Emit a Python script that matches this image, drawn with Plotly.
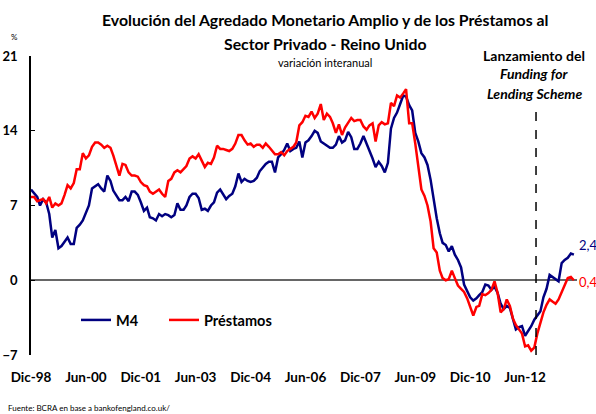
import pandas as pd
import plotly.graph_objects as go

# variacion interanual mensual, dic-98 a oct-13
fechas = pd.date_range("1998-12-01", periods=179, freq="MS")

m4 = [8.5, 8.1, 7.8, 7.0, 7.6, 7.3, 6.2, 4.0, 4.7, 3.0, 3.2, 3.6,
      4.0, 3.4, 3.4, 4.9, 5.2, 5.6, 6.3, 7.0, 8.6, 8.8, 9.0, 8.6,
      8.3, 9.8, 9.3, 8.4, 8.0, 7.5, 7.5, 7.8, 7.4, 8.3, 8.3, 8.0,
      7.3, 6.5, 6.8, 5.9, 5.8, 5.6, 6.2, 6.0, 6.2, 6.1, 5.9, 6.1,
      7.2, 6.6, 6.6, 7.0, 7.8, 8.1, 8.1, 7.7, 6.6, 6.7, 6.5, 7.0,
      7.3, 8.2, 8.5, 8.0, 7.6, 7.9, 8.1, 8.8, 10.0, 9.2, 9.5, 9.3,
      9.2, 9.3, 9.6, 10.2, 10.6, 10.9, 11.1, 11.1, 10.1, 11.5, 11.8, 12.2,
      12.8, 12.1, 12.3, 12.4, 13.0, 11.5, 12.9, 13.1, 13.5, 14.0, 13.8, 13.0,
      12.8, 12.6, 12.4, 12.4, 12.7, 13.5, 12.9, 13.1, 13.9, 13.4, 12.3, 12.3,
      12.8, 13.5, 12.8, 12.2, 11.4, 10.6, 11.1, 10.7, 10.1, 11.0, 14.2, 15.2,
      15.7, 16.5, 17.3, 17.2, 16.4, 15.9, 13.8, 13.0, 11.9, 11.5, 10.8, 9.4,
      7.6, 5.8, 4.4, 3.5, 3.3, 2.7, 3.2, 2.4, 1.9, 1.2, -0.4, -1.1,
      -1.6, -1.9, -1.7, -1.4, -1.1, -0.4, -0.5, -0.9, -0.6, -1.2, -2.2, -2.7,
      -2.4, -2.6, -3.6, -4.6, -4.4, -4.3, -5.2, -4.8, -4.3, -3.7, -3.3, -2.9,
      -1.6, -0.8, 0.5, 0.3, 0.1, -0.1, 1.6, 1.9, 2.1, 2.5, 2.4]

prestamos = [7.8, 7.8, 7.4, 7.5, 7.6, 7.2, 7.8, 6.8, 7.2, 7.0, 7.2, 8.0,
             8.9, 8.6, 9.1, 10.4, 10.4, 11.9, 11.4, 11.7, 12.5, 12.9, 12.9, 12.7,
             12.4, 12.6, 12.4, 11.7, 10.8, 9.8, 10.9, 10.8, 10.1, 9.8, 9.8, 9.7,
             9.2, 8.9, 8.8, 8.3, 8.1, 8.3, 8.5, 8.1, 7.8, 9.3, 9.5, 10.1,
             10.3, 10.1, 10.4, 10.7, 11.4, 11.6, 11.4, 11.8, 11.2, 10.6, 11.0, 10.9,
             11.5, 12.6, 12.3, 12.3, 12.2, 12.1, 12.3, 12.8, 13.6, 13.6, 13.1, 12.7,
             12.8, 12.5, 12.7, 12.7, 12.4, 12.8, 12.5, 12.1, 11.8, 11.8, 12.0, 11.7,
             12.1, 12.3, 12.5, 12.9, 14.5, 14.8, 15.4, 15.3, 15.8, 15.2, 15.6, 16.5,
             15.0, 15.6, 15.3, 14.7, 13.8, 14.6, 13.6, 14.3, 14.8, 15.2, 14.9, 15.0,
             15.0, 14.4, 14.1, 14.5, 14.7, 13.0, 14.5, 14.8, 14.6, 14.7, 16.6, 16.3,
             17.3, 17.1, 17.5, 17.9, 14.7, 14.7, 12.8, 10.5, 8.5, 7.9, 7.0, 5.5,
             3.0, 2.6, 0.9, 0.2, 0.0, 0.1, 0.9, 0.2, -0.5, -0.8, -1.1, -1.7,
             -2.4, -3.3, -2.5, -2.4, -1.3, -1.4, -1.2, -0.9, -0.1, -1.2, -3.0, -2.7,
             -1.8, -2.4, -3.6, -4.2, -4.6, -5.0, -6.2, -6.1, -6.6, -6.3, -5.0, -4.0,
             -3.0, -2.3, -1.8, -2.0, -2.2, -1.8, -1.1, -0.6, 0.2, 0.3, 0.0]

tick_fechas = ["1998-12-01", "2000-06-01", "2001-12-01", "2003-06-01", "2004-12-01",
               "2006-06-01", "2007-12-01", "2009-06-01", "2010-12-01", "2012-06-01"]
tick_textos = ["Dic-98", "Jun-00", "Dic-01", "Jun-03", "Dic-04",
               "Jun-06", "Dic-07", "Jun-09", "Dic-10", "Jun-12"]
y_ticks = [-7, 0, 7, 14, 21]
fls_fecha = "2012-09-18"
ult_m4 = "2,4"
ult_prest = "0,4"

AZUL = "#000080"
ROJO = "#FF0000"
FONT = "Lato"

def pap_y(py):
    return (355 - py) / 299

def pap_x(px):
    return (px - 31) / 546

fig = go.Figure()
fig.add_trace(go.Scatter(x=fechas, y=m4, name="M4", mode="lines", legend="legend",
                         line=dict(color=AZUL, width=2.5)))
fig.add_trace(go.Scatter(x=fechas, y=prestamos, name="Préstamos", mode="lines", legend="legend2",
                         line=dict(color=ROJO, width=2.5)))

# linea vertical del FLS
fig.add_shape(type="line", x0=fls_fecha, x1=fls_fecha, y0=-7, y1=16.6,
              xref="x", yref="y", line=dict(color="black", width=1.5, dash="dash"))

anot = [
    dict(text="<b>Evolución del Agredado Monetario Amplio y de los Préstamos al</b>",
         x=pap_x(325), y=pap_y(19), size=15.8),
    dict(text="<b>Sector Privado - Reino Unido</b>", x=pap_x(325), y=pap_y(43), size=15.8),
    dict(text="variación interanual", x=pap_x(325), y=pap_y(62), size=11),
    dict(text="<b>Lanzamiento del</b>", x=pap_x(534), y=pap_y(55), size=14),
    dict(text="<b><i>Funding for</i></b>", x=pap_x(534), y=pap_y(74), size=14),
    dict(text="<b><i>Lending Scheme</i></b>", x=pap_x(534), y=pap_y(93), size=14),
]
for a in anot:
    fig.add_annotation(text=a["text"], x=a["x"], y=a["y"], xref="paper", yref="paper",
                       showarrow=False, xanchor="center", yanchor="middle",
                       font=dict(family=FONT, size=a["size"], color="black"))

fig.add_annotation(text="%", x=pap_x(14), y=pap_y(37), xref="paper", yref="paper",
                   showarrow=False, xanchor="center", yanchor="middle",
                   font=dict(family=FONT, size=8, color="black"))
fig.add_annotation(text="Fuente: BCRA en base a bankofengland.co.uk/", x=pap_x(6), y=pap_y(408),
                   xref="paper", yref="paper", showarrow=False, xanchor="left", yanchor="middle",
                   font=dict(family=FONT, size=8, color="black"))

# etiquetas del ultimo dato
fig.add_annotation(text=ult_m4, x=fechas[-1], y=m4[-1], showarrow=False, xanchor="left",
                   yanchor="middle", xshift=3, yshift=10, font=dict(family=FONT, size=13, color=AZUL))
fig.add_annotation(text=ult_prest, x=fechas[-1], y=prestamos[-1], showarrow=False, xanchor="left",
                   yanchor="middle", xshift=3, yshift=-2, font=dict(family=FONT, size=13, color=ROJO))

leg_font = dict(family=FONT, size=14.5, color="black", weight="bold")
fig.update_layout(
    width=596, height=414,
    margin=dict(l=31, r=19, t=56, b=59),
    plot_bgcolor="white", paper_bgcolor="white",
    font=dict(family=FONT, color="black"),
    showlegend=True,
    legend=dict(x=pap_x(76), y=pap_y(320), xanchor="left", yanchor="middle",
                font=leg_font, bgcolor="rgba(0,0,0,0)"),
    legend2=dict(x=pap_x(164), y=pap_y(320), xanchor="left", yanchor="middle",
                 font=leg_font, bgcolor="rgba(0,0,0,0)"),
)
fig.update_xaxes(
    range=["1998-12-01", "2013-11-01"],
    tickvals=tick_fechas, ticktext=tick_textos,
    tickfont=dict(family=FONT, size=13.5, weight="bold"),
    showgrid=False, showline=False, ticks="", ticklabelstandoff=12, zeroline=False,
    automargin=False,
)
fig.update_yaxes(
    range=[-7, 21], tickvals=y_ticks,
    tickfont=dict(family=FONT, size=13, weight="bold"),
    showgrid=False, showline=True, linecolor="black", linewidth=1.5,
    ticks="inside", ticklen=4, tickcolor="black", ticklabelstandoff=9,
    zeroline=True, zerolinecolor="#666666", zerolinewidth=1.5,
    automargin=False,
)

fig.write_html("out.html", config={"displayModeBar": False},
               post_script="document.body.style.margin='0px';")
